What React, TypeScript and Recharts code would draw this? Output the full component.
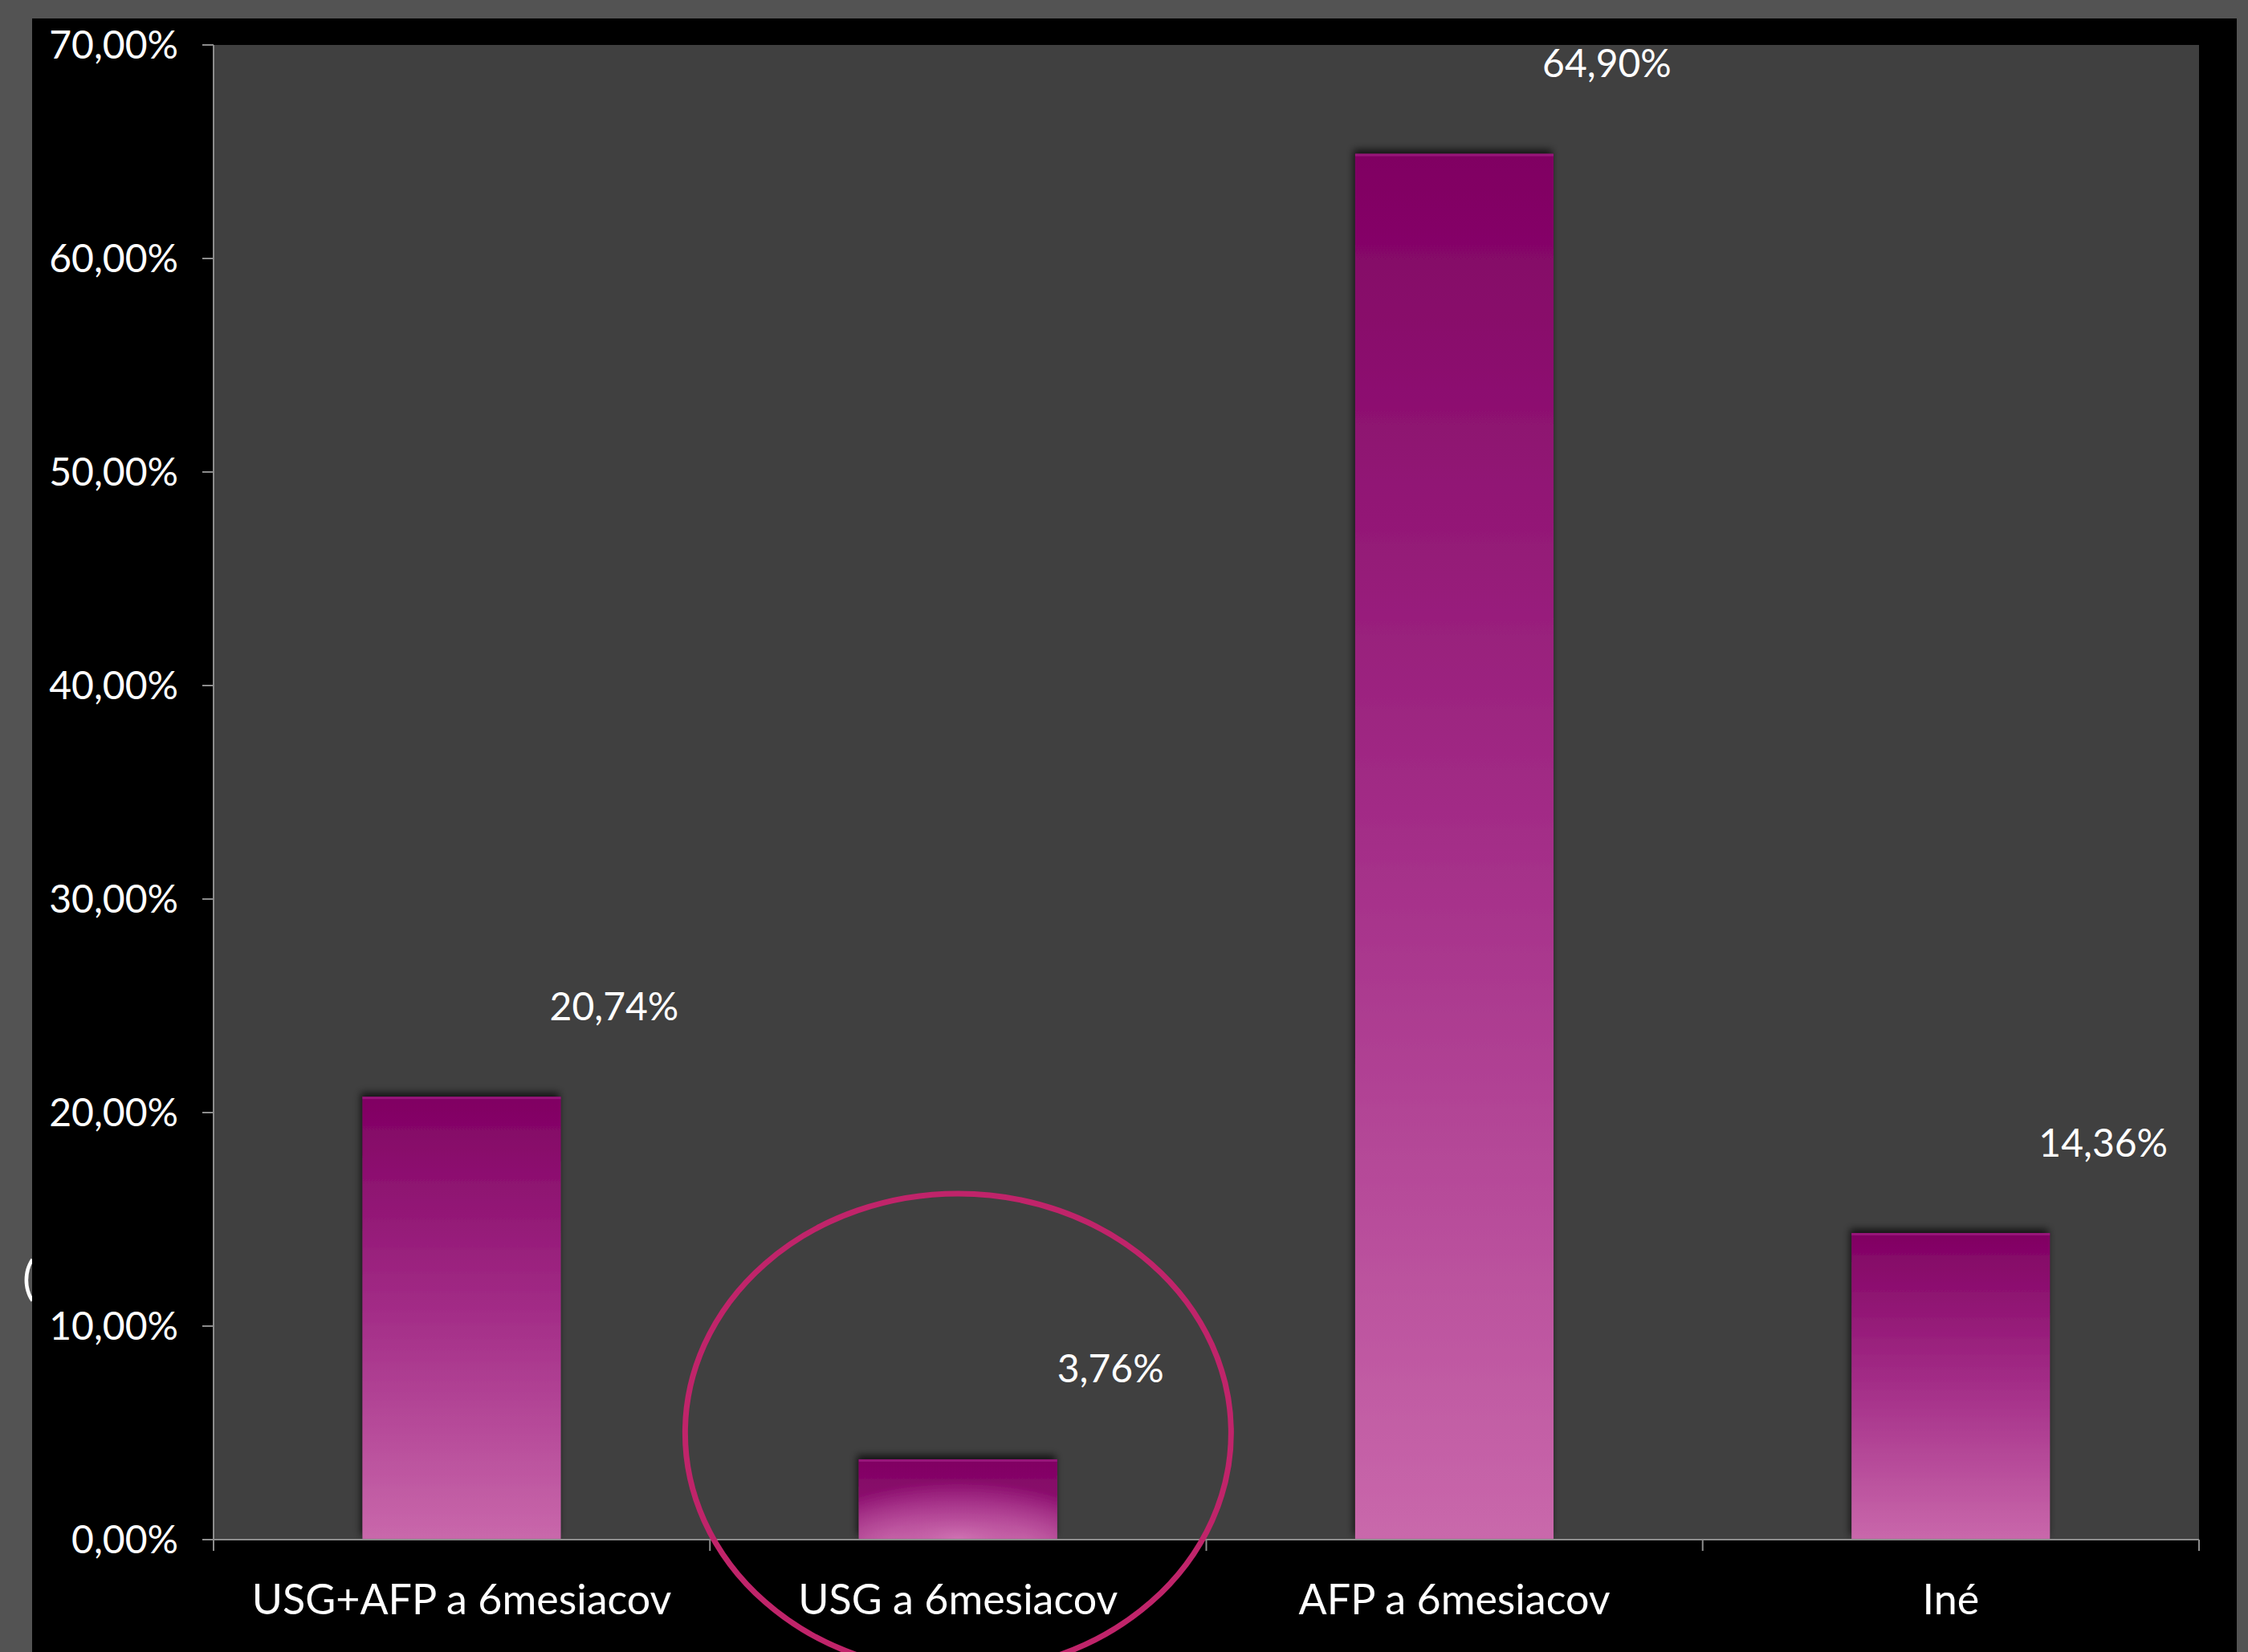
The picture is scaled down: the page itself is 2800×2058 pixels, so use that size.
import React from "react";
import {
  Bar,
  BarChart,
  CartesianGrid,
  LabelList,
  ReferenceDot,
  XAxis,
  YAxis
} from "recharts";

const categories = ["USG+AFP a 6mesiacov", "USG a 6mesiacov", "AFP a 6mesiacov", "Iné"];
const shares = [20.74, 3.76, 64.9, 14.36];
const yTicks = [0, 10, 20, 30, 40, 50, 60, 70];
const highlighted = "USG a 6mesiacov";

const data = categories.map((name, i) => ({ name, value: shares[i] }));

const FONT = "Lato, 'Open Sans', sans-serif";
const AXIS = "#8c8c8c";

const pct = (v: number) => `${v.toFixed(2).replace(".", ",")}%`;

function CategoryTick(props: any) {
  const { x, y, payload, index } = props;
  const half = payload?.offset ?? 309;
  return (
    <g>
      <line x1={x - half} x2={x - half} y1={y} y2={y + 14} stroke={AXIS} strokeWidth={2} />
      {index === categories.length - 1 && (
        <line x1={x + half} x2={x + half} y1={y} y2={y + 14} stroke={AXIS} strokeWidth={2} />
      )}
      <text
        x={x}
        y={y + 73}
        textAnchor="middle"
        dominantBaseline="central"
        fill="#ffffff"
        fontSize={52}
        fontFamily={FONT}
      >
        {payload.value}
      </text>
    </g>
  );
}

function ValueLabel(props: any) {
  const { x, y, width, value } = props;
  return (
    <text
      x={x + width / 2 + 190}
      y={y - 114}
      textAnchor="middle"
      dominantBaseline="central"
      fill="#ffffff"
      fontSize={48}
      fontFamily={FONT}
    >
      {pct(value)}
    </text>
  );
}

// vertical gradient, short bars get darker sides like the original path fill
function GradientBar(props: any) {
  const { x, y, width, height } = props;
  if (!height || height <= 0) return null;
  const side = Math.max(0, 1 - height / 350);
  return (
    <g filter="url(#barShadow)">
      <rect x={x} y={y} width={width} height={height} fill="url(#barFill)" />
      {side > 0 && (
        <rect x={x} y={y} width={width} height={height} fill="url(#barSides)" opacity={side} />
      )}
      <rect x={x} y={y} width={width} height={3} fill="#9c1a80" opacity={0.8} />
    </g>
  );
}

function Ring(props: any) {
  const { cx, cy } = props;
  return <ellipse cx={cx} cy={cy} rx={340} ry={298} fill="none" stroke="#c0246a" strokeWidth={7} />;
}

export default function App() {
  return (
    <div style={{ position: "relative", width: 2800, height: 2058, background: "#535353", overflow: "hidden" }}>
      <style>{`body{margin:0}`}</style>
      <span
        style={{
          position: "absolute",
          left: 28,
          top: 1556,
          color: "#fff",
          fontSize: 58,
          fontFamily: FONT
        }}
      >
        (
      </span>
      <div style={{ position: "absolute", left: 40, top: 23, width: 2746, height: 2035, background: "#000" }} />
      <div style={{ position: "absolute", left: 0, top: 0 }}>
        <BarChart
          width={2800}
          height={2058}
          data={data}
          margin={{ top: 56, right: 61, bottom: 0, left: 0 }}
          barCategoryGap="30%"
        >
          <defs>
            <linearGradient id="barFill" x1="0" y1="0" x2="0" y2="1">
              <stop offset="0%" stopColor="#800062" />
              <stop offset="50%" stopColor="#a42e88" />
              <stop offset="100%" stopColor="#c968ab" />
            </linearGradient>
            <radialGradient id="barSides" cx="50%" cy="100%" r="75%">
              <stop offset="0%" stopColor="#d47ab8" stopOpacity={0.9} />
              <stop offset="45%" stopColor="#b44896" stopOpacity={0.3} />
              <stop offset="100%" stopColor="#800062" stopOpacity={1} />
            </radialGradient>
            <filter id="barShadow" x="-20%" y="-20%" width="140%" height="140%">
              <feDropShadow dx={-2} dy={-5} stdDeviation={5} floodColor="#000" floodOpacity={0.7} />
            </filter>
          </defs>
          <CartesianGrid horizontal={false} vertical={false} fill="#404040" stroke="none" />
          <XAxis
            dataKey="name"
            height={140}
            axisLine={{ stroke: AXIS, strokeWidth: 2 }}
            tickLine={false}
            tickSize={0}
            tickMargin={0}
            interval={0}
            tick={<CategoryTick />}
          />
          <YAxis
            width={266}
            domain={[0, 70]}
            ticks={yTicks}
            interval={0}
            tickFormatter={pct}
            axisLine={{ stroke: AXIS, strokeWidth: 2 }}
            tickLine={{ stroke: AXIS, strokeWidth: 2 }}
            tickSize={14}
            tickMargin={30}
            tick={{ fill: "#ffffff", fontSize: 48, fontFamily: FONT }}
          />
          <Bar dataKey="value" shape={<GradientBar />} isAnimationActive={false}>
            <LabelList dataKey="value" content={<ValueLabel />} />
          </Bar>
          <ReferenceDot x={highlighted} y={5} ifOverflow="visible" shape={<Ring />} />
        </BarChart>
      </div>
    </div>
  );
}
